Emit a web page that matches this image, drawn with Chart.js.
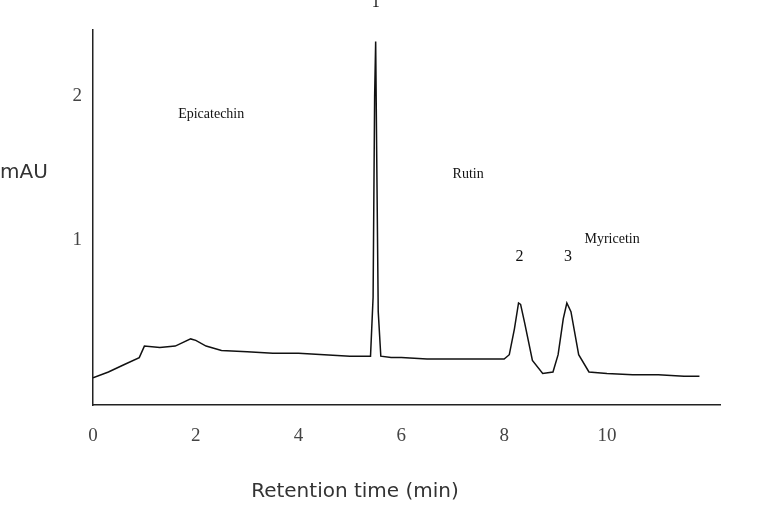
<!DOCTYPE html>
<html><head><meta charset="utf-8">
<script src="https://cdn.jsdelivr.net/npm/chart.js@4/dist/chart.umd.min.js"></script>
<style>html,body{margin:0;background:#fff}#w{width:775px;height:506px}</style></head>
<body><div id="w"><canvas id="c"></canvas></div>
<script>
const times = [0,0.3,0.6,0.9,1.0,1.3,1.6,1.9,2.0,2.2,2.5,3.0,3.5,4.0,4.5,5.0,5.4,5.45,5.48,5.5,5.52,5.55,5.6,5.8,6.0,6.5,7.0,7.5,8.0,8.1,8.2,8.28,8.32,8.4,8.55,8.75,8.95,9.05,9.15,9.22,9.3,9.45,9.65,10,10.5,11,11.5,11.8];
const signal = [0.04,0.08,0.13,0.18,0.26,0.25,0.26,0.31,0.30,0.26,0.23,0.22,0.21,0.21,0.2,0.19,0.19,0.6,2.0,2.38,1.6,0.5,0.19,0.18,0.18,0.17,0.17,0.17,0.17,0.2,0.38,0.56,0.55,0.42,0.16,0.07,0.08,0.2,0.45,0.56,0.5,0.2,0.08,0.07,0.06,0.06,0.05,0.05];
const xTicks = [0,2,4,6,8,10];
const yTicks = [1,2];
const peakLabels = [{t:5.5,v:2.62,s:'1'},{t:8.3,v:0.85,s:'2'},{t:9.24,v:0.85,s:'3'}];
const compounds = [{t:2.3,v:1.85,s:'Epicatechin'},{t:7.3,v:1.43,s:'Rutin'},{t:10.1,v:0.98,s:'Myricetin'}];
const ann = {id:'ann',afterDraw(c){const g=c.ctx,x=c.scales.x,y=c.scales.y;g.save();g.fillStyle='#111';g.textAlign='center';
g.font='16px "Liberation Serif"';peakLabels.forEach(p=>g.fillText(p.s,x.getPixelForValue(p.t),y.getPixelForValue(p.v)));
g.font='14px "Liberation Serif"';compounds.forEach(p=>g.fillText(p.s,x.getPixelForValue(p.t),y.getPixelForValue(p.v)));
g.fillStyle='#333';g.font='20px "DejaVu Sans"';g.textAlign='left';g.fillText('mAU',0,178);
g.textAlign='center';g.fillText('Retention time (min)',355,497);g.restore();}};
new Chart(document.getElementById('c'),{type:'line',
data:{datasets:[{data:times.map((t,i)=>({x:t,y:signal[i]})),borderColor:'#111',borderWidth:1.5,pointRadius:0,tension:0}]},
options:{responsive:true,maintainAspectRatio:false,animation:false,layout:{padding:{top:30,right:55}},
plugins:{legend:{display:false},tooltip:{enabled:false}},
scales:{x:{type:'linear',min:0,max:12.2,afterFit(a){a.height=101},afterBuildTicks(a){a.ticks=xTicks.map(v=>({value:v}))},
grid:{display:false,drawTicks:true},border:{color:'#222',width:1.5},ticks:{color:'#444',font:{size:19,family:'Liberation Serif'},padding:12}},
y:{min:-0.15,max:2.46,afterFit(a){a.width=93},afterBuildTicks(a){a.ticks=yTicks.map(v=>({value:v}))},
grid:{display:false},border:{color:'#222',width:1.5},ticks:{color:'#444',font:{size:19,family:'Liberation Serif'}}}}},
plugins:[ann]});
</script></body></html>
